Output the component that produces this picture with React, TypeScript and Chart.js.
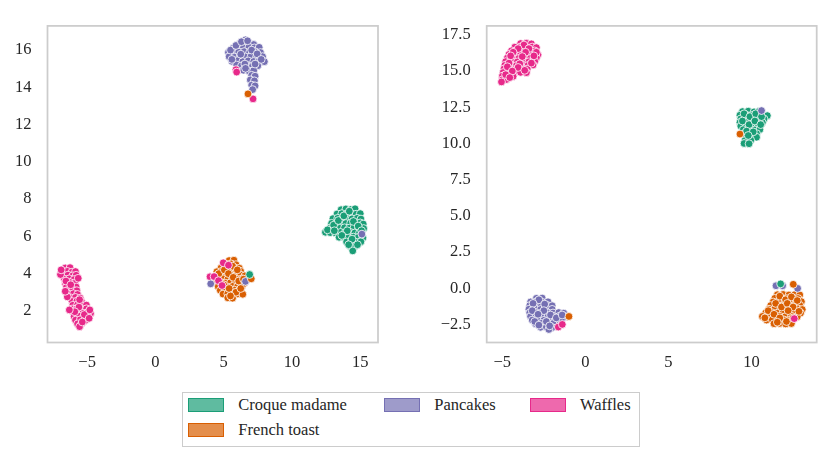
import React, { useEffect, useRef } from "react";
import { Chart, registerables } from "chart.js";

Chart.register(...registerables);

type Pt = [number, number];

// hue order used by both panels
const categories = ["Croque madame", "French toast", "Pancakes", "Waffles"];
const colors = ["#1b9e77", "#d95f02", "#7570b3", "#e7298a"];
const legendFills = [
  "rgba(27,158,119,0.7)",
  "rgba(217,95,2,0.7)",
  "rgba(117,112,179,0.7)",
  "rgba(231,41,138,0.7)",
];

// ---- left panel ----
const leftCroque: Pt[] = [
  [13.6, 7.43], [13.95, 7.47], [14.3, 7.44], [14.62, 7.48],
  [13.3, 7.2], [13.65, 7.22], [14.0, 7.18], [14.35, 7.21], [14.7, 7.19], [15.0, 7.22],
  [13.0, 6.95], [13.35, 6.97], [13.7, 6.93], [14.05, 6.96], [14.4, 6.94], [14.78, 6.97], [15.05, 6.93],
  [12.9, 6.7], [13.25, 6.68], [13.6, 6.72], [13.95, 6.69], [14.3, 6.71], [14.65, 6.68], [15.0, 6.72], [15.22, 6.66],
  [12.8, 6.45], [13.15, 6.47], [13.5, 6.43], [13.85, 6.46], [14.2, 6.44], [14.55, 6.47], [14.9, 6.43], [15.25, 6.42],
  [12.45, 6.22], [12.8, 6.2], [13.2, 6.18], [13.55, 6.21], [13.9, 6.19], [14.25, 6.22], [14.6, 6.18], [14.95, 6.2],
  [13.45, 5.95], [13.8, 5.97], [14.15, 5.93], [14.5, 5.96], [14.85, 5.94], [15.2, 5.92],
  [14.0, 5.7], [14.35, 5.72], [14.7, 5.68], [15.05, 5.71],
  [14.3, 5.45], [14.62, 5.47], [14.45, 5.22],
  [12.6, 6.35], [13.05, 6.6], [13.4, 6.85], [13.8, 7.1], [14.2, 7.35], [14.5, 6.8], [14.85, 6.55],
  [15.1, 6.3], [14.05, 6.3], [13.65, 6.05], [14.4, 5.85], [14.8, 5.55], [14.15, 5.55], [13.1, 6.3],
];
const leftToast: Pt[] = [
  [5.4, 4.7], [5.75, 4.72],
  [5.2, 4.5], [5.55, 4.52], [5.9, 4.48],
  [4.8, 4.3], [5.1, 4.32], [5.45, 4.28], [5.8, 4.31], [6.15, 4.29],
  [4.5, 4.1], [4.85, 4.12], [5.2, 4.08], [5.55, 4.11], [5.9, 4.09], [6.25, 4.12],
  [4.5, 3.9], [4.85, 3.92], [5.2, 3.88], [5.55, 3.91], [5.9, 3.89], [6.25, 3.92], [6.55, 3.88],
  [4.6, 3.7], [4.95, 3.72], [5.3, 3.68], [5.65, 3.71], [6.0, 3.69], [6.35, 3.72],
  [4.5, 3.5], [4.8, 3.52], [5.15, 3.48], [5.5, 3.51], [5.85, 3.49], [6.2, 3.52], [6.5, 3.48],
  [4.6, 3.3], [4.95, 3.32], [5.3, 3.28], [5.65, 3.31], [6.0, 3.29], [6.35, 3.32],
  [4.75, 3.1], [5.1, 3.12], [5.45, 3.08], [5.8, 3.11], [6.15, 3.09],
  [4.95, 2.9], [5.3, 2.92], [5.65, 2.88], [6.0, 2.91], [6.4, 2.89],
  [5.3, 2.7], [5.65, 2.68],
  [4.35, 3.7], [4.65, 4.0], [5.05, 4.2], [5.35, 4.0], [5.7, 3.8], [6.1, 3.6], [6.45, 3.7],
  [5.0, 3.4], [5.4, 3.2], [5.9, 3.0], [5.5, 2.8], [6.25, 3.2], [5.65, 4.4], [6.0, 4.2],
];
const leftPancakes: Pt[] = [
  [6.6, 16.55],
  [6.15, 16.33], [6.5, 16.38], [6.88, 16.34], [7.2, 16.3],
  [5.7, 16.12], [6.05, 16.17], [6.45, 16.13], [6.85, 16.16], [7.25, 16.12], [7.6, 16.15],
  [5.35, 15.88], [5.72, 15.93], [6.1, 15.9], [6.5, 15.92], [6.9, 15.88], [7.3, 15.91], [7.7, 15.87],
  [5.4, 15.65], [5.8, 15.62], [6.2, 15.67], [6.6, 15.63], [7.0, 15.66], [7.4, 15.62], [7.85, 15.65],
  [5.6, 15.4], [6.0, 15.43], [6.4, 15.38], [6.8, 15.42], [7.2, 15.39], [7.6, 15.42], [7.98, 15.38],
  [5.95, 15.2], [6.3, 15.15], [6.7, 15.18], [7.1, 15.13], [7.5, 15.16],
  [6.45, 14.92], [6.85, 14.88], [7.2, 14.9],
  [7.05, 14.65], [7.3, 14.6], [6.95, 14.4], [7.25, 14.35], [7.05, 14.12], [7.3, 14.08], [7.12, 13.88],
  [5.5, 16.0], [5.9, 16.25], [6.3, 16.45], [6.75, 16.5], [7.05, 16.0], [7.45, 15.8], [7.75, 15.5],
  [6.25, 15.78], [5.6, 15.5], [6.55, 15.25], [7.3, 15.25], [6.6, 15.02],
];
const leftWaffles: Pt[] = [
  [-6.6, 4.3], [-6.25, 4.32],
  [-6.8, 4.1], [-6.45, 4.12], [-6.1, 4.08], [-5.85, 4.11],
  [-6.75, 3.9], [-6.4, 3.92], [-6.05, 3.88], [-5.8, 3.91],
  [-6.65, 3.7], [-6.3, 3.72], [-5.95, 3.68],
  [-6.6, 3.5], [-6.25, 3.52], [-5.9, 3.48],
  [-6.5, 3.3], [-6.15, 3.32], [-5.8, 3.28],
  [-6.4, 3.1], [-6.05, 3.12], [-5.75, 3.08],
  [-6.35, 2.9], [-6.0, 2.92], [-5.7, 2.88],
  [-6.2, 2.7], [-5.85, 2.72], [-5.5, 2.68],
  [-6.1, 2.5], [-5.75, 2.52], [-5.4, 2.48],
  [-6.05, 2.3], [-5.7, 2.32], [-5.35, 2.28], [-5.05, 2.31],
  [-6.1, 2.1], [-5.75, 2.12], [-5.4, 2.08], [-5.05, 2.11],
  [-6.0, 1.9], [-5.65, 1.92], [-5.3, 1.88], [-4.95, 1.91], [-4.75, 1.85],
  [-5.95, 1.7], [-5.6, 1.72], [-5.25, 1.68], [-4.95, 1.71],
  [-5.85, 1.5], [-5.5, 1.52], [-5.15, 1.48],
  [-5.7, 1.3], [-5.4, 1.32], [-5.55, 1.15],
  [-6.95, 3.95], [-6.9, 4.2], [-6.55, 3.6], [-6.2, 3.4], [-5.65, 3.75], [-6.45, 2.75], [-5.6, 2.2],
  [-5.2, 1.8], [-4.8, 2.05], [-5.35, 1.4], [-5.9, 1.95], [-6.3, 2.05], [-5.55, 2.6], [-6.6, 3.05], [-4.85, 1.6],
];
// points that landed inside another cluster
const leftCroqueOut: Pt[] = [[6.9, 3.95]];
const leftToastOut: Pt[] = [[6.78, 13.65], [7.02, 3.72]];
const leftPancakesOut: Pt[] = [[4.05, 3.45], [6.6, 3.58], [15.12, 6.12]];
const leftWafflesOut: Pt[] = [
  [5.9, 14.95], [5.95, 14.82], [7.15, 13.38],
  [4.0, 3.83], [4.3, 3.84], [4.97, 4.58], [5.35, 4.45], [4.62, 3.62], [4.88, 3.36],
];

// ---- right panel ----
const rightCroque: Pt[] = [
  [9.45, 12.2], [9.8, 12.23], [10.15, 12.18], [10.45, 12.21],
  [9.3, 11.95], [9.65, 11.97], [10.0, 11.93], [10.35, 11.96], [10.7, 11.94], [10.95, 11.92],
  [9.35, 11.7], [9.7, 11.72], [10.05, 11.68], [10.4, 11.71], [10.75, 11.69],
  [9.3, 11.45], [9.65, 11.47], [10.0, 11.43], [10.35, 11.46], [10.65, 11.44],
  [9.35, 11.2], [9.7, 11.22], [10.05, 11.18], [10.4, 11.21],
  [9.5, 10.95], [9.85, 10.97], [10.2, 10.93], [10.5, 10.96],
  [9.6, 10.7], [9.95, 10.72], [10.3, 10.68],
  [9.65, 10.45], [10.0, 10.47], [10.3, 10.43],
  [9.6, 10.2], [9.95, 10.22],
  [9.55, 10.0], [9.85, 9.98],
  [9.55, 12.05], [9.9, 11.85], [10.25, 12.05], [10.6, 11.85], [9.45, 11.55], [9.85, 11.3],
  [10.2, 11.55], [10.55, 11.3], [9.7, 10.85], [10.1, 10.8], [9.8, 10.55],
];
const rightToast: Pt[] = [
  [11.55, -0.45], [11.9, -0.43], [12.25, -0.47], [12.6, -0.44], [12.9, -0.46],
  [11.4, -0.7], [11.75, -0.68], [12.1, -0.72], [12.45, -0.69], [12.8, -0.71],
  [11.3, -0.95], [11.65, -0.93], [12.0, -0.97], [12.35, -0.94], [12.7, -0.96], [13.0, -0.93],
  [11.15, -1.2], [11.5, -1.18], [11.85, -1.22], [12.2, -1.19], [12.55, -1.21], [12.9, -1.18],
  [11.05, -1.45], [11.4, -1.43], [11.75, -1.47], [12.1, -1.44], [12.45, -1.46], [12.8, -1.43], [13.05, -1.47],
  [10.85, -1.7], [11.2, -1.68], [11.55, -1.72], [11.9, -1.69], [12.25, -1.71], [12.6, -1.68], [12.95, -1.72],
  [10.65, -1.95], [11.0, -1.93], [11.35, -1.97], [11.7, -1.94], [12.05, -1.96], [12.4, -1.93], [12.75, -1.97],
  [10.9, -2.2], [11.25, -2.18], [11.6, -2.22], [11.95, -2.19], [12.3, -2.21],
  [11.35, -2.45], [11.7, -2.43], [12.05, -2.47], [12.4, -2.44],
  [11.7, -0.55], [12.05, -0.8], [12.4, -0.6], [12.75, -0.85], [11.45, -1.05], [11.8, -1.3],
  [12.15, -1.05], [12.5, -1.3], [12.85, -1.6], [11.0, -1.55], [11.35, -1.8], [11.7, -2.05],
  [12.1, -2.3], [12.5, -2.05], [10.8, -2.05], [11.55, -2.35], [12.2, -1.55],
];
const rightPancakes: Pt[] = [
  [-2.95, -0.7], [-2.6, -0.68],
  [-3.3, -0.95], [-2.95, -0.93], [-2.6, -0.97], [-2.25, -0.94],
  [-3.35, -1.2], [-3.0, -1.18], [-2.65, -1.22], [-2.3, -1.19], [-2.0, -1.21],
  [-3.4, -1.45], [-3.05, -1.43], [-2.7, -1.47], [-2.35, -1.44], [-2.0, -1.46],
  [-3.35, -1.7], [-3.0, -1.68], [-2.65, -1.72], [-2.3, -1.69], [-1.95, -1.71], [-1.6, -1.68], [-1.3, -1.72],
  [-3.3, -1.95], [-2.95, -1.93], [-2.6, -1.97], [-2.25, -1.94], [-1.9, -1.96], [-1.55, -1.93], [-1.2, -1.97],
  [-3.2, -2.2], [-2.85, -2.18], [-2.5, -2.22], [-2.15, -2.19], [-1.8, -2.21], [-1.45, -2.18],
  [-3.0, -2.45], [-2.65, -2.43], [-2.3, -2.47], [-1.95, -2.44],
  [-2.7, -2.7], [-2.35, -2.68], [-2.0, -2.72], [-2.2, -2.85],
  [-2.8, -0.8], [-3.15, -1.05], [-2.45, -1.1], [-3.2, -1.55], [-2.5, -1.55], [-2.85, -1.8],
  [-2.1, -1.85], [-1.75, -2.05], [-3.05, -2.3], [-2.35, -2.3], [-2.8, -2.55], [-2.15, -2.6], [-1.4, -1.85],
];
const rightWaffles: Pt[] = [
  [-3.9, 16.9], [-3.55, 16.92], [-3.25, 16.88],
  [-4.25, 16.65], [-3.9, 16.67], [-3.55, 16.63], [-3.2, 16.66], [-2.95, 16.62],
  [-4.45, 16.4], [-4.1, 16.42], [-3.75, 16.38], [-3.4, 16.41], [-3.05, 16.39],
  [-4.6, 16.15], [-4.25, 16.17], [-3.9, 16.13], [-3.55, 16.16], [-3.2, 16.14], [-2.85, 16.12],
  [-4.7, 15.9], [-4.35, 15.92], [-4.0, 15.88], [-3.65, 15.91], [-3.3, 15.89], [-2.95, 15.92],
  [-4.8, 15.65], [-4.45, 15.67], [-4.1, 15.63], [-3.75, 15.66], [-3.4, 15.64], [-3.05, 15.67],
  [-4.85, 15.4], [-4.5, 15.42], [-4.15, 15.38], [-3.8, 15.41], [-3.45, 15.39], [-3.15, 15.42],
  [-4.9, 15.15], [-4.55, 15.17], [-4.2, 15.13], [-3.85, 15.16], [-3.5, 15.14],
  [-4.95, 14.9], [-4.6, 14.92], [-4.25, 14.88], [-3.9, 14.91], [-3.55, 14.89],
  [-5.0, 14.65], [-4.7, 14.67], [-4.35, 14.63],
  [-5.0, 14.4], [-4.75, 14.42], [-5.05, 14.25],
  [-3.7, 16.8], [-4.05, 16.55], [-3.4, 16.55], [-4.35, 16.3], [-3.6, 16.3], [-2.95, 16.3],
  [-4.5, 16.05], [-3.8, 16.0], [-3.1, 16.05], [-4.6, 15.55], [-3.95, 15.5], [-3.25, 15.55],
  [-4.7, 15.3], [-4.05, 15.25], [-3.65, 15.05], [-4.4, 15.0], [-4.8, 14.75], [-4.55, 14.55],
];
const rightCroqueOut: Pt[] = [[11.75, 0.3]];
const rightToastOut: Pt[] = [[9.3, 10.65], [-0.99, -1.95], [12.51, 0.27]];
const rightPancakesOut: Pt[] = [[10.6, 12.27], [11.47, 0.17], [11.87, 0.17], [12.77, -0.01]];
const rightWafflesOut: Pt[] = [[-1.63, -2.68], [-1.39, -2.5], [12.57, -2.1]];

// ---- ticks ----
const leftXTicks = [-5, 0, 5, 10, 15];
const leftYTicks = [2, 4, 6, 8, 10, 12, 14, 16];
const rightXTicks = [-5, 0, 5, 10];
const rightYTicks = [-2.5, 0, 2.5, 5, 7.5, 10, 12.5, 15, 17.5];

const FONT = '"Liberation Serif", "Nimbus Roman", "Times New Roman", Times, "DejaVu Serif", "Noto Serif", serif';
const TEXT = "#262626";

const minus = (s: string) => s.replace("-", "\u2212");

const framePlugin = {
  id: "frame",
  afterDatasetsDraw(chart: Chart) {
    const { ctx, chartArea } = chart;
    ctx.save();
    ctx.strokeStyle = "#cccccc";
    ctx.lineWidth = 1.75;
    ctx.strokeRect(chartArea.left, chartArea.top, chartArea.right - chartArea.left, chartArea.bottom - chartArea.top);
    ctx.restore();
  },
};

interface PanelProps {
  main: Pt[][];
  outliers: Pt[][];
  xTicks: number[];
  yTicks: number[];
  xRange: [number, number];
  yRange: [number, number];
  yDecimals: number;
  yAxisWidth: number;
  rightPad: number;
  left: number;
  width: number;
}

function Panel(props: PanelProps) {
  const canvasRef = useRef<HTMLCanvasElement | null>(null);

  useEffect(() => {
    const ctx = canvasRef.current?.getContext("2d");
    if (!ctx) return;

    const pointStyle = (i: number) => ({
      backgroundColor: colors[i],
      borderColor: "#ffffff",
      pointRadius: 3.9,
      pointBorderWidth: 0.8,
      pointBackgroundColor: colors[i],
      pointBorderColor: "#ffffff",
    });

    const datasets: any[] = [];
    props.main.forEach((pts, i) => {
      datasets.push({
        label: categories[i],
        data: pts.map(([x, y]) => ({ x, y })),
        order: 1,
        ...pointStyle(i),
      });
    });
    props.outliers.forEach((pts, i) => {
      datasets.push({
        label: categories[i] + " (mixed)",
        data: pts.map(([x, y]) => ({ x, y })),
        order: 0,
        ...pointStyle(i),
      });
    });

    const tickFont = { family: FONT, size: 16.5 };

    const chart = new Chart(ctx, {
      type: "scatter",
      data: { datasets },
      options: {
        animation: false,
        responsive: false,
        devicePixelRatio: 1,
        layout: { padding: { top: 14, right: props.rightPad, bottom: 12.5, left: 0 } },
        plugins: { legend: { display: false }, tooltip: { enabled: false } },
        scales: {
          x: {
            type: "linear",
            min: props.xRange[0],
            max: props.xRange[1],
            grid: { display: false, drawTicks: false },
            border: { display: false },
            ticks: {
              padding: 10,
              color: TEXT,
              font: tickFont,
              maxRotation: 0,
              callback: (v: any) => minus(String(v)),
            },
            afterBuildTicks: (s: any) => {
              s.ticks = props.xTicks.map((value) => ({ value }));
            },
            afterFit: (s: any) => {
              s.height = 30;
            },
          },
          y: {
            type: "linear",
            min: props.yRange[0],
            max: props.yRange[1],
            grid: { display: false, drawTicks: false },
            border: { display: false },
            ticks: {
              padding: 16,
              color: TEXT,
              font: tickFont,
              callback: (v: any) => minus(Number(v).toFixed(props.yDecimals)),
            },
            afterBuildTicks: (s: any) => {
              s.ticks = props.yTicks.map((value) => ({ value }));
            },
            afterFit: (s: any) => {
              s.width = props.yAxisWidth;
            },
          },
        },
      },
      plugins: [framePlugin],
    });

    return () => chart.destroy();
  }, [props]);

  return (
    <canvas
      ref={canvasRef}
      width={props.width}
      height={385}
      style={{ position: "absolute", left: props.left, top: 0, width: props.width, height: 385 }}
    />
  );
}

// legend slot for each category (three columns, filled column by column)
const legendSlots = [
  { x: 188.3, y: 398.3 },
  { x: 188.3, y: 423.3 },
  { x: 384.3, y: 398.3 },
  { x: 530, y: 398.3 },
];

const leftMain = [leftCroque, leftToast, leftPancakes, leftWaffles];
const leftOut = [leftCroqueOut, leftToastOut, leftPancakesOut, leftWafflesOut];
const rightMain = [rightCroque, rightToast, rightPancakes, rightWaffles];
const rightOut = [rightCroqueOut, rightToastOut, rightPancakesOut, rightWafflesOut];

const leftProps: PanelProps = {
  main: leftMain,
  outliers: leftOut,
  xTicks: leftXTicks,
  yTicks: leftYTicks,
  xRange: [-7.9, 16.3],
  yRange: [0.3, 17.3],
  yDecimals: 0,
  yAxisWidth: 47.5,
  rightPad: 37,
  left: 0,
  width: 415,
};

const rightProps: PanelProps = {
  main: rightMain,
  outliers: rightOut,
  xTicks: rightXTicks,
  yTicks: rightYTicks,
  xRange: [-5.94, 13.92],
  yRange: [-3.75, 18.12],
  yDecimals: 1,
  yAxisWidth: 71.7,
  rightPad: 14.3,
  left: 415,
  width: 416,
};

export default function App() {
  return (
    <div style={{ position: "absolute", left: 0, top: 0, width: 831, height: 461, background: "#ffffff", fontFamily: FONT }}>
      <Panel {...leftProps} />
      <Panel {...rightProps} />
      <div
        style={{
          position: "absolute",
          left: 181.5,
          top: 391.5,
          width: 458,
          height: 55,
          border: "1px solid #cccccc",
          boxSizing: "border-box",
        }}
      />
      {categories.map((name, i) => {
        const slot = legendSlots[i];
        return (
          <React.Fragment key={name}>
            <div
              style={{
                position: "absolute",
                left: slot.x,
                top: slot.y,
                width: 36,
                height: 14,
                boxSizing: "border-box",
                background: legendFills[i],
                border: `1px solid ${colors[i]}`,
              }}
            />
            <div
              style={{
                position: "absolute",
                left: slot.x + 50,
                top: slot.y + 7 - 10,
                height: 20,
                lineHeight: "20px",
                fontSize: 16.5,
                color: TEXT,
                whiteSpace: "nowrap",
              }}
            >
              {name}
            </div>
          </React.Fragment>
        );
      })}
    </div>
  );
}
